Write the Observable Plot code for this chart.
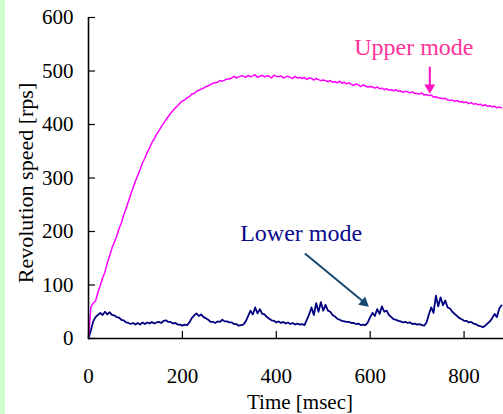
<!DOCTYPE html>
<html>
<head>
<meta charset="utf-8">
<script src="https://cdn.jsdelivr.net/npm/d3@7"></script>
<script src="https://cdn.jsdelivr.net/npm/@observablehq/plot@0.6"></script>
<style>
  html, body { margin: 0; padding: 0; }
  body { width: 503px; height: 414px; overflow: hidden;
         background: linear-gradient(to right, #ccffcc 0px, #ccffcc 5px, #ffffff 5px); }
  svg { display: block; }
</style>
</head>
<body>
<div id="chart"></div>
<script>
// sampling step of the recorded traces (msec)
const stepMs = 5;

// Upper mode revolution speed [rps], one value every 5 msec from 0 to 880
const upperMode = [
  0, 58, 66, 70, 86, 99, 113, 124, 141, 154,
  169, 180, 191, 205, 216, 231, 243, 256, 269, 282,
  294, 305, 316, 328, 337, 348, 356, 366, 373, 382,
  388, 396, 402, 409, 415, 421, 426, 431, 435, 440,
  444, 446, 450, 452, 457, 458, 462, 464, 466, 468,
  471, 472, 475, 477, 478, 479, 482, 481, 483, 485,
  485, 487, 490, 487, 489, 491, 490, 488, 492, 489,
  491, 493, 488, 490, 492, 489, 491, 490, 487, 492,
  490, 489, 491, 487, 489, 490, 488, 486, 490, 487,
  488, 486, 488, 484, 487, 486, 483, 486, 484, 482,
  483, 482, 480, 482, 479, 480, 478, 481, 477, 479,
  476, 478, 475, 473, 476, 474, 471, 474, 472, 470,
  471, 470, 468, 470, 467, 468, 465, 467, 464, 465,
  463, 465, 462, 463, 460, 462, 461, 459, 461, 458,
  458, 457, 459, 455, 456, 454, 455, 451, 452, 450,
  449, 448, 449, 446, 445, 446, 443, 445, 442, 443,
  441, 442, 439, 441, 438, 439, 437, 438, 435, 437,
  434, 435, 433, 434, 431, 433, 431
];

// Lower mode revolution speed [rps], one value every 5 msec from 0 to 880
const lowerMode = [
  0, 15, 32, 40, 44, 48, 44, 50, 45, 49,
  44, 43, 40, 39, 35, 34, 30, 29, 27, 29,
  26, 29, 26, 30, 27, 30, 28, 31, 28, 30,
  31, 29, 33, 34, 31, 31, 28, 29, 26, 26,
  24, 26, 25, 30, 38, 43, 47, 42, 45, 40,
  38, 35, 31, 31, 29, 32, 31, 35, 32, 32,
  30, 30, 27, 27, 24, 25, 26, 32, 42, 52,
  45, 58, 47, 55, 46, 45, 40, 37, 34, 33,
  30, 32, 29, 31, 28, 30, 27, 29, 26, 28,
  26, 27, 25, 35, 45, 58, 44, 66, 50, 68,
  52, 63, 52, 50, 44, 41, 37, 35, 33, 32,
  31, 31, 29, 29, 27, 28, 25, 26, 25, 30,
  40, 48, 42, 55, 46, 60, 50, 52, 44, 40,
  36, 35, 33, 32, 30, 31, 29, 30, 27, 28,
  26, 27, 25, 24, 30, 45, 58, 48, 80, 60,
  77, 62, 71, 58, 56, 50, 46, 42, 38, 36,
  33, 33, 30, 31, 28, 27, 24, 23, 21, 24,
  28, 32, 38, 46, 40, 56, 62
];

// tick labels
const xTicks = [0, 200, 400, 600, 800];
const yTicks = [0, 100, 200, 300, 400, 500, 600];

// annotations (data coordinates)
const upperLabel = {t: 693, v: 545, text: "Upper mode"};
const lowerLabel = {t: 453, v: 196, text: "Lower mode"};
const upperArrow = {t1: 727, v1: 508, t2: 727, v2: 472};
const upperHead = {t: 727, v: 469};
const lowerArrow = {t1: 461, v1: 159, t2: 585, v2: 69};
const lowerHead = {t: 587, v: 67};

const upperData = upperMode.map((v, i) => ({t: i * stepMs, v}));
const lowerData = lowerMode.map((v, i) => ({t: i * stepMs, v}));

// pick the first installed serif face
function installed(name) {
  const c = document.createElement("canvas").getContext("2d");
  const s = "Revolution speed 0123456789 mWi";
  let diff = false;
  for (const base of ["monospace", "sans-serif"]) {
    c.font = "40px " + base;
    const w0 = c.measureText(s).width;
    c.font = "40px '" + name + "', " + base;
    if (Math.abs(c.measureText(s).width - w0) > 0.5) diff = true;
    else return false;
  }
  return diff;
}
const candidates = ["Liberation Serif", "Times New Roman", "Tinos", "DejaVu Serif", "Noto Serif", "FreeSerif", "Nimbus Roman"];
const found = candidates.find(installed);
const serif = found ? "'" + found + "', serif" : "serif";

const chart = Plot.plot({
  width: 503,
  height: 414,
  marginLeft: 88,
  marginRight: 0,
  marginTop: 17,
  marginBottom: 76,
  x: {domain: [0, 884]},
  y: {domain: [0, 600]},
  style: {fontFamily: serif, fontSize: "21px", background: "transparent", color: "black", overflow: "visible"},
  marks: [
    Plot.axisX(xTicks, {tickSize: 0, tickPadding: 30, label: null, fontSize: 21, fontFamily: serif, fill: "black"}),
    Plot.axisY(yTicks, {tickSize: 0, tickPadding: 15, label: null, fontSize: 21, fontFamily: serif, fill: "black"}),
    Plot.ruleX(xTicks, {x: d => d, y1: 0, y2: 0, insetTop: -7, stroke: "black", strokeWidth: 1.2}),
    Plot.ruleY(yTicks, {y: d => d, x1: 0, x2: 0, insetRight: -7, stroke: "black", strokeWidth: 1.2}),
    Plot.lineY(lowerData, {x: "t", y: "v", stroke: "#000080", strokeWidth: 1.8}),
    Plot.lineY(upperData, {x: "t", y: "v", stroke: "#ff00ff", strokeWidth: 1.5}),
    Plot.ruleX([0], {stroke: "black", strokeWidth: 1.6}),
    Plot.ruleY([0], {stroke: "black", strokeWidth: 1.6}),
    Plot.text([upperLabel], {x: "t", y: "v", text: "text", fill: "#ff3399", fontSize: 24, fontFamily: serif, textAnchor: "middle", lineAnchor: "middle"}),
    Plot.text([lowerLabel], {x: "t", y: "v", text: "text", fill: "#0a0a8c", fontSize: 24, fontFamily: serif, textAnchor: "middle", lineAnchor: "middle"}),
    Plot.link([upperArrow], {x1: "t1", y1: "v1", x2: "t2", y2: "v2", stroke: "#ff10c0", strokeWidth: 2}),
    Plot.dot([upperHead], {x: "t", y: "v", symbol: "triangle", r: 4, fill: "#ff10c0", stroke: "none", rotate: 180}),
    Plot.link([lowerArrow], {x1: "t1", y1: "v1", x2: "t2", y2: "v2", stroke: "#174a73", strokeWidth: 2}),
    Plot.dot([lowerHead], {x: "t", y: "v", symbol: "triangle", r: 4, fill: "#174a73", stroke: "none", rotate: 130}),
    Plot.text(["Revolution speed [rps]"], {text: d => d, frameAnchor: "left", dx: -63, dy: 5, rotate: -90, fontSize: 22, fontFamily: serif, fill: "black", textAnchor: "middle", lineAnchor: "middle"}),
    Plot.text(["Time [msec]"], {text: d => d, frameAnchor: "bottom", dx: 4, dy: 56, fontSize: 21, fontFamily: serif, fill: "black", textAnchor: "middle", lineAnchor: "top"})
  ]
});
document.getElementById("chart").appendChild(chart);
</script>
</body>
</html>
